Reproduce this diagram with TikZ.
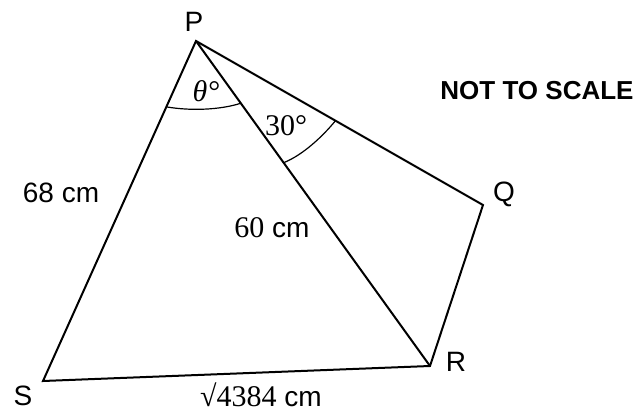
\documentclass[tikz,border=0pt]{standalone}
\usepackage{fontspec}
\setmainfont{Liberation Sans}
\newfontfamily\mfont{Liberation Serif}
\newcommand{\mtxt}[1]{{\fontsize{30}{34}\selectfont\mfont #1}}
\usetikzlibrary{calc}
\tikzset{
  lbl/.style={font=\fontsize{28}{32}\selectfont, inner sep=0pt},
  edge/.style={line width=2pt, line join=miter},
  anglearc/.style={line width=1.2pt}
}
\begin{document}
\begin{tikzpicture}[x=1pt,y=-1pt]
\useasboundingbox (0,0) rectangle (638,412);
\coordinate (P) at (196,41);
\coordinate (Q) at (483,205);
\coordinate (R) at (430,366);
\coordinate (S) at (43,381);
\draw[edge] (P) -- (Q) -- (R) -- (S) -- cycle;
\draw[edge] (P) -- (R);
% angle arcs
\coordinate (t1) at ($(P)!0.1937!(S)$);
\coordinate (t2) at ($(P)!0.1915!(R)$);
\draw[anglearc] (t1) .. controls (190,111) and (220,110) .. (t2);
\coordinate (u1) at ($(P)!0.3745!(R)$);
\coordinate (u2) at ($(P)!0.486!(Q)$);
\draw[anglearc] (u1) .. controls (303,155) and (323,136) .. (u2);
% labels
\node[lbl] (lP) at (194,22) {P};
\node[lbl] (lQ) at (504,194) {Q};
\node[lbl] (lR) at (456,362) {R};
\node[lbl] (lS) at (23,396) {S};
\node[lbl] (l68) at (61,193) {68 cm};
\node[lbl] (l60) at (272,228) {\mtxt{60} cm};
\node[lbl] (lSR) at (261,395) {\mtxt{√4384} cm};
\node[lbl] (lth) at (206,91) {\mtxt{\itshape θ°}};
\node[lbl] (l30) at (286,126) {\mtxt{30°}};
\node[font=\bfseries\fontsize{26}{30}\selectfont, inner sep=0pt] (nts) at (537,91) {NOT TO SCALE};
\end{tikzpicture}
\end{document}
